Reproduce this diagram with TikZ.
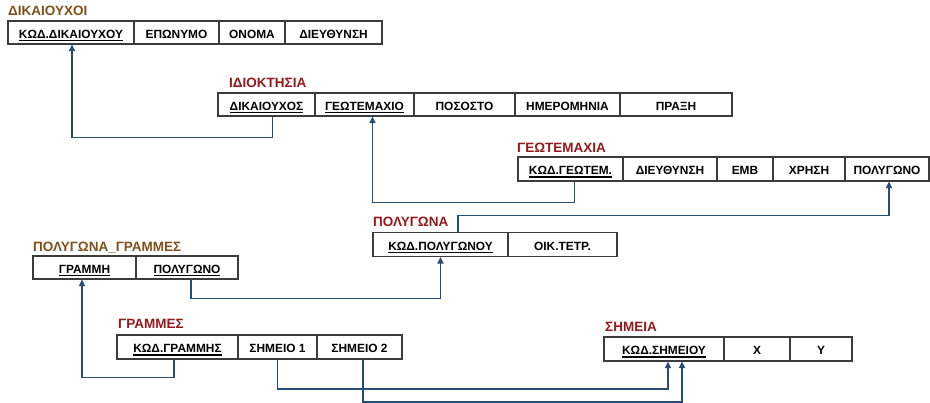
\documentclass[tikz,border=0pt]{standalone}
\usepackage{fontspec}
\setmainfont{Liberation Sans}
\usetikzlibrary{arrows.meta}

\definecolor{titlebrown}{RGB}{128,80,26}
\definecolor{titlered}{RGB}{150,24,26}
\definecolor{linkblue}{RGB}{40,76,122}
\definecolor{cellframe}{RGB}{60,60,60}

% key attributes: bold caps with a heavy underline
\newsavebox\keybox
\newcommand\keyattr[1]{\sbox\keybox{#1}\rlap{\rule[-3pt]{\wd\keybox}{1.4pt}}\usebox\keybox}

\tikzset{
  cell/.style={draw=cellframe, line width=1.2pt, rectangle, inner sep=0pt,
    text height=11.5pt, text depth=0pt,
    font=\fontsize{11.9}{14}\selectfont\bfseries},
  tbltitle/.style={anchor=base west, inner sep=0pt,
    font=\fontsize{13.5}{16}\selectfont\bfseries},
  link/.style={draw=linkblue, line width=1.3pt,
    -{Triangle[length=6.5pt,width=6pt]}}
}

\begin{document}
\begin{tikzpicture}[x=1pt,y=-1pt]
\useasboundingbox (0,0) rectangle (930,403);

% ΔΙΚΑΙΟΥΧΟΙ
\node[tbltitle, text=titlebrown] (t1) at (8,16) {ΔΙΚΑΙΟΥΧΟΙ};
\node[cell, minimum width=126pt, minimum height=23pt] (kdik) at (71,32.5) {\keyattr{ΚΩΔ.ΔΙΚΑΙΟΥΧΟΥ}};
\node[cell, minimum width=85pt, minimum height=23pt] (epon) at (176.5,32.5) {ΕΠΩΝΥΜΟ};
\node[cell, minimum width=66pt, minimum height=23pt] (onom) at (252,32.5) {ΟΝΟΜΑ};
\node[cell, minimum width=97pt, minimum height=23pt] (dieuthA) at (333.5,32.5) {ΔΙΕΥΘΥΝΣΗ};

% ΙΔΙΟΚΤΗΣΙΑ
\node[tbltitle, text=titlered] (t2) at (229,88) {ΙΔΙΟΚΤΗΣΙΑ};
\node[cell, minimum width=97pt, minimum height=23pt] (dikx) at (266.5,104.5) {\keyattr{ΔΙΚΑΙΟΥΧΟΣ}};
\node[cell, minimum width=99pt, minimum height=23pt] (geot) at (364.5,104.5) {\keyattr{ΓΕΩΤΕΜΑΧΙΟ}};
\node[cell, minimum width=101pt, minimum height=23pt] (posos) at (464.5,104.5) {ΠΟΣΟΣΤΟ};
\node[cell, minimum width=105pt, minimum height=23pt] (hmer) at (567.5,104.5) {ΗΜΕΡΟΜΗΝΙΑ};
\node[cell, minimum width=112pt, minimum height=23pt] (prax) at (676,104.5) {ΠΡΑΞΗ};

% ΓΕΩΤΕΜΑΧΙΑ
\node[tbltitle, text=titlered] (t3) at (517,153) {ΓΕΩΤΕΜΑΧΙΑ};
\node[cell, minimum width=105pt, minimum height=24pt] (kgeot) at (570.5,169) {\keyattr{ΚΩΔ.ΓΕΩΤΕΜ.}};
\node[cell, minimum width=94pt, minimum height=24pt] (dieuthB) at (670,169) {ΔΙΕΥΘΥΝΣΗ};
\node[cell, minimum width=56pt, minimum height=24pt] (emb) at (745,169) {ΕΜΒ};
\node[cell, minimum width=72pt, minimum height=24pt] (xrhsh) at (809,169) {ΧΡΗΣΗ};
\node[cell, minimum width=84pt, minimum height=24pt] (polgA) at (887,169) {ΠΟΛΥΓΩΝΟ};

% ΠΟΛΥΓΩΝΑ
\node[tbltitle, text=titlered] (t4) at (373,227) {ΠΟΛΥΓΩΝΑ};
\node[cell, minimum width=135pt, minimum height=24pt] (kpol) at (440.5,244.5) {\keyattr{ΚΩΔ.ΠΟΛΥΓΩΝΟΥ}};
\node[cell, minimum width=109pt, minimum height=24pt] (oik) at (562.5,244.5) {ΟΙΚ.ΤΕΤΡ.};

% ΠΟΛΥΓΩΝΑ_ΓΡΑΜΜΕΣ
\node[tbltitle, text=titlebrown] (t5) at (33,252) {ΠΟΛΥΓΩΝΑ\_ΓΡΑΜΜΕΣ};
\node[cell, minimum width=103pt, minimum height=23pt] (gramA) at (84.5,267.5) {\keyattr{ΓΡΑΜΜΗ}};
\node[cell, minimum width=102pt, minimum height=23pt] (polgB) at (187,267.5) {\keyattr{ΠΟΛΥΓΩΝΟ}};

% ΓΡΑΜΜΕΣ
\node[tbltitle, text=titlered] (t6) at (118,329) {ΓΡΑΜΜΕΣ};
\node[cell, minimum width=121pt, minimum height=24pt] (kgram) at (177.5,347) {\keyattr{ΚΩΔ.ΓΡΑΜΜΗΣ}};
\node[cell, minimum width=79pt, minimum height=24pt] (shmA) at (277.5,347) {ΣΗΜΕΙΟ 1};
\node[cell, minimum width=85pt, minimum height=24pt] (shmB) at (359.5,347) {ΣΗΜΕΙΟ 2};

% ΣΗΜΕΙΑ
\node[tbltitle, text=titlered] (t7) at (605,331.5) {ΣΗΜΕΙΑ};
\node[cell, minimum width=120pt, minimum height=24pt] (kshm) at (664,349) {\keyattr{ΚΩΔ.ΣΗΜΕΙΟΥ}};
\node[cell, minimum width=66pt, minimum height=24pt] (xcol) at (757,349) {X};
\node[cell, minimum width=62pt, minimum height=24pt] (ycol) at (821,349) {Y};

% foreign keys
\draw[link] ([xshift=6pt]dikx.south) -- ++(0,21) -| ([xshift=1pt]kdik.south);
\draw[link] ([xshift=4pt]kgeot.south) -- ++(0,21) -| ([xshift=8pt]geot.south);
\draw[link] ([xshift=17.5pt]kpol.north) -- ++(0,-16.5) -| ([xshift=2pt]polgA.south);
\draw[link] ([xshift=4pt]polgB.south) -- ++(0,19) -| (kpol.south);
\draw[link] ([xshift=-3.5pt]kgram.south) -- ++(0,18) -| ([xshift=-2.5pt]gramA.south);
\draw[link] (shmA.south) -- ++(0,29.5) -| ([xshift=4pt]kshm.south);
\draw[link] ([xshift=3.5pt]shmB.south) -- ++(0,42.5) -| ([xshift=18pt]kshm.south);
\end{tikzpicture}
\end{document}
